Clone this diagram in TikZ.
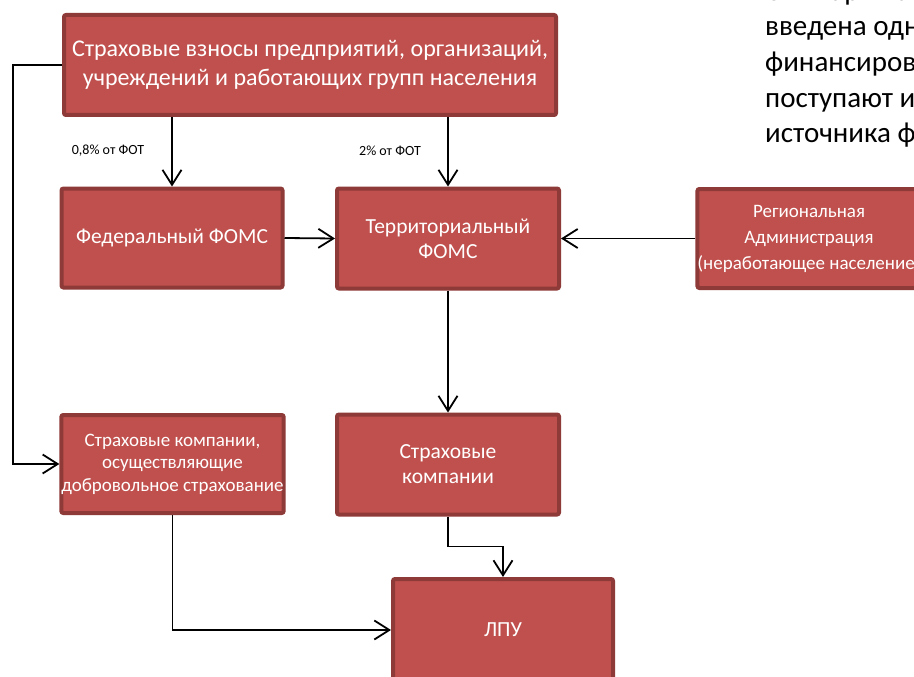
\documentclass[tikz,border=0pt]{standalone}
\usepackage{fontspec}
\setmainfont{Carlito}
\usetikzlibrary{arrows.meta}
\definecolor{boxfill}{HTML}{C0504D}
\definecolor{boxline}{HTML}{8E3A38}
\tikzset{
  box/.style={rectangle, fill=boxfill, draw=boxline, line width=4pt, rounded corners=2pt,
    text=white, align=center, inner sep=0pt, font=\fontsize{21.5}{25}\selectfont},
  arr/.style={draw=black, line width=1.8pt, -{Straight Barb[length=15pt,width=19pt]}},
  lbl/.style={font=\fontsize{14}{16}\selectfont, inner sep=0pt},
  side/.style={anchor=base west, inner sep=0pt, font=\fontsize{29}{35}\selectfont}
}
\begin{document}
\begin{tikzpicture}[x=1pt,y=-1pt]
\useasboundingbox (0,0) rectangle (914,677);
\clip (0,0) rectangle (914,677);
\fill[white] (0,0) rectangle (914,677);
\node[box, minimum width=492pt, minimum height=100pt, font=\fontsize{24}{29.5}\selectfont] (top) at (310,65)
  {Страховые взносы предприятий, организаций,\\учреждений и работающих групп населения};
\node[box, minimum width=221pt, minimum height=99pt] (fed) at (172,238) {Федеральный ФОМС};
\node[box, minimum width=222pt, minimum height=100pt] (terr) at (448,238.5) {Территориальный\\ФОМС};
\node[box, minimum width=220pt, minimum height=99pt, font=\fontsize{19}{26}\selectfont] (reg) at (809,238.5) {Региональная\\Администрация\\(неработающее население)};
\node[box, minimum width=221pt, minimum height=98pt, font=\fontsize{19}{22.5}\selectfont] (vol) at (172.5,464) {Страховые компании,\\осуществляющие\\добровольное страхование};
\node[box, minimum width=222pt, minimum height=100pt] (ins) at (448,464.5) {Страховые\\компании};
\node[box, minimum width=220pt, minimum height=102pt] (lpu) at (503,630) {ЛПУ};
\node[lbl] (l1) at (108,151) {0,8\% от ФОТ};
\node[lbl] (l2) at (390,151) {2\% от ФОТ};
\node[side] (t1) at (765,0.5) {С января 2013 г.};
\node[side] (t2) at (765,36) {введена одноканальная};
\node[side] (t3) at (765,71.5) {финансирования};
\node[side] (t4) at (765,107) {поступают из};
\node[side] (t5) at (765,142.5) {источника финансирования};
\draw[arr] (top.south -| fed.north) -- (fed.north);
\draw[arr] (top.south -| terr.north) -- (terr.north);
\draw[arr] (fed.east) -- (terr.west);
\draw[arr] (reg.west) -- (terr.east);
\draw[arr] (terr.south) -- (ins.north);
\draw[arr] (top.west) -- ++(-49,0) |- (vol.west);
\draw[arr] (vol.south) |- (lpu.west);
\draw[arr] (ins.south) -- ++(0,30) -| (lpu.north);
\end{tikzpicture}
\end{document}
